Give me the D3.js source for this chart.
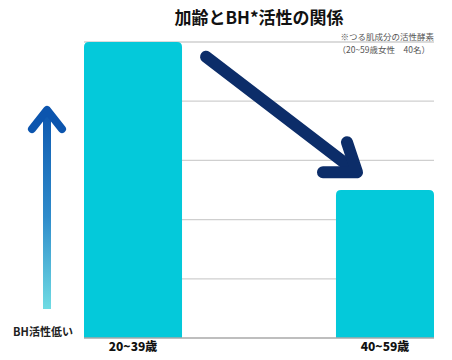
<!DOCTYPE html>
<html>
<head>
<meta charset="utf-8">
<script src="https://cdn.jsdelivr.net/npm/d3@7"></script>
<style>
  body { margin: 0; background: #fff; }
  text { font-family: "Noto Sans CJK JP", "Noto Sans", sans-serif; }
</style>
</head>
<body>
<div id="chart"></div>
<script>
// chart values
const categories = ["20~39歳", "40~59歳"];
const values = [100, 50];
const yTicks = [0, 20, 40, 60, 80, 100];
const title = "加齢とBH*活性の関係";
const notes = ["※つる肌成分の活性酵素", "（20~59歳女性　40名）"];
const sideLabel = "BH活性低い";

const width = 452;
const height = 360;
const margin = { top: 42, right: 18, bottom: 22, left: 84 };

const svg = d3.select("#chart")
  .append("svg")
  .attr("width", width)
  .attr("height", height);

const x = d3.scaleBand()
  .domain(categories)
  .range([margin.left, width - margin.right])
  .paddingInner(0.611)
  .paddingOuter(0);

const y = d3.scaleLinear()
  .domain([0, 100])
  .range([height - margin.bottom, margin.top]);

// gridlines
svg.append("g")
  .selectAll("line")
  .data(yTicks.filter(d => d > 0))
  .enter()
  .append("line")
  .attr("x1", margin.left)
  .attr("x2", width - margin.right)
  .attr("y1", d => y(d))
  .attr("y2", d => y(d))
  .attr("stroke", "#cfcfcf")
  .attr("stroke-width", 1.3);

// bars with rounded top corners
const r = 5;
svg.append("g")
  .selectAll("path")
  .data(values)
  .enter()
  .append("path")
  .attr("fill", "#04c9da")
  .attr("d", (d, i) => {
    const x0 = x(categories[i]);
    const x1 = x0 + x.bandwidth();
    const y0 = y(0);
    const y1 = y(d);
    return `M${x0},${y0}V${y1 + r}Q${x0},${y1} ${x0 + r},${y1}H${x1 - r}Q${x1},${y1} ${x1},${y1 + r}V${y0}Z`;
  });

// baseline
svg.append("line")
  .attr("x1", margin.left)
  .attr("x2", width - margin.right)
  .attr("y1", y(0))
  .attr("y2", y(0))
  .attr("stroke", "#a8a8a8")
  .attr("stroke-width", 1.5);

// x labels
svg.append("g")
  .call(d3.axisBottom(x).tickSize(0).tickPadding(0))
  .attr("transform", `translate(0,${y(0)})`)
  .call(g => g.select(".domain").remove())
  .selectAll("text")
  .attr("y", 4)
  .attr("dy", "0.71em")
  .style("font-size", "12px")
  .style("font-weight", "900")
  .style("fill", "#111");

// title
svg.append("text")
  .attr("x", 259)
  .attr("y", 24)
  .attr("text-anchor", "middle")
  .style("font-size", "17px")
  .style("font-weight", "bold")
  .style("fill", "#111")
  .text(title);

// notes
svg.selectAll(".note")
  .data(notes)
  .enter()
  .append("text")
  .attr("class", "note")
  .attr("x", (d, i) => i === 0 ? width - margin.right : width - margin.right - 4)
  .attr("y", (d, i) => i === 0 ? 40 : 53)
  .attr("text-anchor", "end")
  .style("font-size", "8.5px")
  .style("fill", "#555")
  .text(d => d);

// big decreasing arrow
const navy = "#0c2d69";
const tip = [x(categories[1]) + 21, y(56)];
svg.append("line")
  .attr("x1", x(categories[0]) + x.bandwidth() + 24)
  .attr("y1", y(95))
  .attr("x2", tip[0] - 4)
  .attr("y2", tip[1] - 3)
  .attr("stroke", navy)
  .attr("stroke-width", 12)
  .attr("stroke-linecap", "round");
svg.append("polyline")
  .attr("points", `${tip[0] - 10},${tip[1] - 30} ${tip[0]},${tip[1]} ${tip[0] - 34},${tip[1]}`)
  .attr("fill", "none")
  .attr("stroke", navy)
  .attr("stroke-width", 12)
  .attr("stroke-linecap", "round")
  .attr("stroke-linejoin", "round");

// left gradient arrow
const grad = svg.append("defs").append("linearGradient")
  .attr("id", "upgrad")
  .attr("gradientUnits", "userSpaceOnUse")
  .attr("x1", 0).attr("y1", 308)
  .attr("x2", 0).attr("y2", 106);
grad.append("stop").attr("offset", "0%").attr("stop-color", "#6fdbe3");
grad.append("stop").attr("offset", "45%").attr("stop-color", "#2f8ccb");
grad.append("stop").attr("offset", "100%").attr("stop-color", "#0c55ae");

const ax = 47;
svg.append("line")
  .attr("x1", ax).attr("x2", ax)
  .attr("y1", 309).attr("y2", 112)
  .attr("stroke", "url(#upgrad)")
  .attr("stroke-width", 8);
svg.append("polyline")
  .attr("points", `${ax - 15},${129} ${ax},${110} ${ax + 15},${129}`)
  .attr("fill", "none")
  .attr("stroke", "#0c55ae")
  .attr("stroke-width", 8)
  .attr("stroke-linecap", "round")
  .attr("stroke-linejoin", "round");

svg.append("text")
  .attr("x", 43)
  .attr("y", 336)
  .attr("text-anchor", "middle")
  .style("font-size", "11px")
  .style("font-weight", "bold")
  .style("fill", "#222")
  .text(sideLabel);
</script>
</body>
</html>
